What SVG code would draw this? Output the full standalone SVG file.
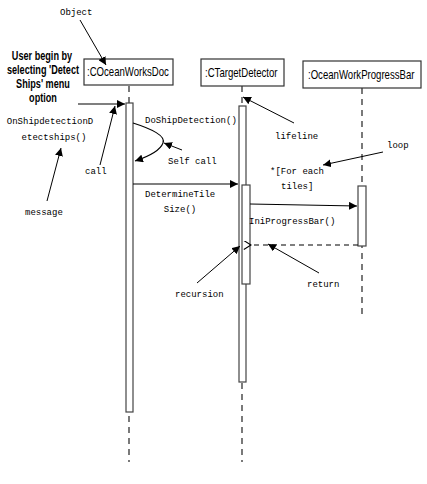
<svg xmlns="http://www.w3.org/2000/svg" width="427" height="484" viewBox="0 0 427 484">
<defs>
<marker id="fa" viewBox="0 0 10 10" refX="10" refY="5" markerWidth="8" markerHeight="8" markerUnits="userSpaceOnUse" orient="auto">
<path d="M0,0 L10,5 L0,10 z" fill="#000"/>
</marker>
<marker id="oa" viewBox="0 0 10 10" refX="1" refY="5" markerWidth="9" markerHeight="9" markerUnits="userSpaceOnUse" orient="auto">
<path d="M9,0 L1,5 L9,10" fill="none" stroke="#000" stroke-width="1.2"/>
</marker>
<style>
.box{fill:#fff;stroke:#333;stroke-width:1.2}
.bar{fill:#fff;stroke:#444;stroke-width:1.2}
.life{stroke:#222;stroke-width:1.2;stroke-dasharray:6,5;fill:none}
.msg{stroke:#000;stroke-width:1.1;fill:none;marker-end:url(#fa)}
.ret{stroke:#000;stroke-width:1.1;fill:none;stroke-dasharray:5,4;marker-end:url(#oa)}
.note{stroke:#000;stroke-width:1;fill:none;marker-end:url(#fa)}
.mono{font-family:"Liberation Mono","DejaVu Sans Mono",monospace;font-size:9px;fill:#000}
.sans{font-family:"Liberation Sans",Arial,sans-serif;font-size:12px;fill:#000}
.bold{font-family:"Liberation Sans",Arial,sans-serif;font-size:12.5px;font-weight:bold;fill:#000}
</style>
</defs>
<rect width="427" height="484" fill="#fff"/>

<g id="lifelines">
<line class="life" x1="129" y1="86" x2="129" y2="462"/>
<line class="life" x1="242" y1="86" x2="242" y2="462"/>
<line class="life" x1="362" y1="88" x2="362" y2="318"/>
</g>

<g id="node-cocean">
<rect class="box" x="84" y="59" width="89" height="26"/>
<text class="sans" transform="scale(0.8,1)" x="108.75" y="76">:COceanWorksDoc</text>
<rect class="bar" x="126" y="103" width="7" height="309"/>
</g>

<g id="node-ctarget">
<rect class="box" x="201" y="59" width="83" height="27"/>
<text class="sans" transform="scale(0.8,1)" x="256.25" y="77">:CTargetDetector</text>
<rect class="bar" x="239" y="106" width="7" height="276"/>
<rect class="bar" x="242" y="185" width="8" height="99"/>
</g>

<g id="node-progress">
<rect class="box" x="303" y="61" width="118" height="27"/>
<text class="sans" transform="scale(0.8,1)" x="385" y="79">:OceanWorkProgressBar</text>
<rect class="bar" x="358" y="186" width="8" height="60"/>
</g>

<g id="connectors">
<line class="msg" x1="78" y1="104" x2="125" y2="104"/>
<path class="msg" d="M133,123 C152,129 166,136 163,143 C160,151 147,157 135,161"/>
<line class="msg" x1="133" y1="184" x2="238" y2="184"/>
<line class="msg" x1="250" y1="204" x2="357" y2="206"/>
<line class="ret" x1="358" y1="245" x2="251" y2="245"/>
<line class="note" x1="80" y1="20" x2="106" y2="65"/>
<line class="note" x1="47" y1="201" x2="61" y2="148"/>
<line class="note" x1="100" y1="165" x2="115" y2="106"/>
<line class="note" x1="182" y1="150" x2="164" y2="143"/>
<line class="note" x1="294" y1="123" x2="243" y2="97"/>
<line class="note" x1="383" y1="152" x2="323" y2="165"/>
<line class="note" x1="319" y1="273" x2="268" y2="244"/>
<line class="note" x1="197" y1="283" x2="240" y2="246"/>
</g>

<g id="labels">
<text class="mono" x="60" y="15">Object</text>
<g transform="scale(0.73,1)">
<text class="bold" x="57.5" y="60" text-anchor="middle">User begin by</text>
<text class="bold" x="58.9" y="74" text-anchor="middle">selecting 'Detect</text>
<text class="bold" x="58.9" y="88" text-anchor="middle">Ships' menu</text>
<text class="bold" x="58.9" y="102" text-anchor="middle">option</text>
</g>
<text class="mono" x="50" y="124" text-anchor="middle">OnShipdetectionD</text>
<text class="mono" x="54" y="140" text-anchor="middle">etectships()</text>
<text class="mono" x="25" y="215">message</text>
<text class="mono" x="85" y="174">call</text>
<text class="mono" x="145" y="123">DoShipDetection()</text>
<text class="mono" x="168" y="164">Self call</text>
<text class="mono" x="145" y="197">DetermineTile</text>
<text class="mono" x="180" y="212" text-anchor="middle">Size()</text>
<text class="mono" x="275" y="139">lifeline</text>
<text class="mono" x="387" y="148">loop</text>
<text class="mono" x="270" y="174">*[For each</text>
<text class="mono" x="281" y="189">tiles]</text>
<text class="mono" x="249" y="224">IniProgressBar()</text>
<text class="mono" x="307" y="287">return</text>
<text class="mono" x="175" y="297">recursion</text>
</g>
</svg>
